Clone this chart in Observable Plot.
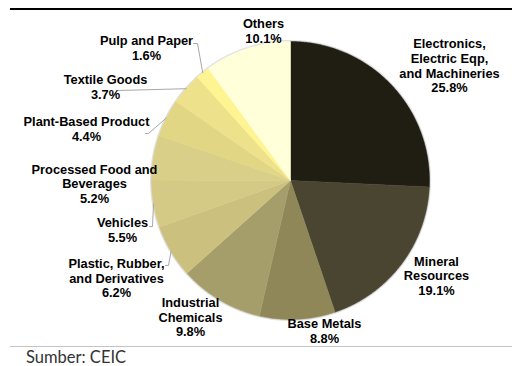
<!DOCTYPE html>
<html><head><meta charset="utf-8">
<script src="https://cdn.jsdelivr.net/npm/d3@7"></script>
<script src="https://cdn.jsdelivr.net/npm/@observablehq/plot@0.6"></script>
<style>
body{margin:0;background:#fff;width:512px;height:366px;overflow:hidden;position:relative}
#chart{position:absolute;left:0;top:0}
#topline{position:absolute;left:10px;top:8px;width:502px;height:2px;background:#000}
#bottomline{position:absolute;left:10px;top:346px;width:502px;height:1px;background:#c4c4c4}
#caption{position:absolute;left:26px;top:349px;font-family:Lato,sans-serif;font-size:16.5px;line-height:16px;color:#333;white-space:nowrap}
</style>
</head><body>
<div id="chart"></div>
<div id="topline"></div>
<div id="bottomline"></div>
<div id="caption">Sumber: CEIC</div>
<script>
// ---- data ----
const categories = [
  "Electronics,\nElectric Eqp,\nand Machineries",
  "Mineral\nResources",
  "Base Metals",
  "Industrial\nChemicals",
  "Plastic, Rubber,\nand Derivatives",
  "Vehicles",
  "Processed Food and\nBeverages",
  "Plant-Based Product",
  "Textile Goods",
  "Pulp and Paper",
  "Others"
];
const shares = [25.8, 19.1, 8.8, 9.8, 6.2, 5.5, 5.2, 4.4, 3.7, 1.6, 10.1];
const colors = ["#201d12", "#4a4530", "#8f8757", "#a69e6a", "#cbc07e", "#d5ca85", "#d9cf89", "#e1d684", "#eee18c", "#fef592", "#ffffda"];

// ---- layout (pixels) ----
const W = 512, H = 346, CX = 290, CY = 180, R = 139;
const labelPos = [
  [449, 65], [436, 275], [324, 330.5], [190, 316.5], [116, 277.5], [122, 229.5],
  [94, 183], [86, 128.5], [105, 86.5], [146, 47], [263, 30]
];
const leaderStarts = [
  {i: 9, pts: [[193, 43], [197, 43]]},
  {i: 8, pts: [[118, 90]]},
  {i: 7, pts: [[145, 133], [148, 133]]},
  {i: 5, pts: [[149, 226], [152, 226]]},
  {i: 4, pts: [[165, 265], [168, 265]]}
];

// ---- geometry from data ----
const arcs = d3.pie().sort(null).value(d => d)(shares);
const slices = arcs.map((a, k) => {
  const pts = [{x: 0, y: 0}];
  const n = Math.max(2, Math.ceil((a.endAngle - a.startAngle) / 0.01));
  for (let j = 0; j <= n; j++) {
    const t = a.startAngle + (a.endAngle - a.startAngle) * j / n;
    pts.push({x: R * Math.sin(t), y: -R * Math.cos(t)});
  }
  pts.push({x: 0, y: 0});
  return pts;
});
// outline ring for soft shadow
const ring = d3.range(0, 361).map(d => ({x: R * Math.sin(d * Math.PI / 180), y: -R * Math.cos(d * Math.PI / 180)}));

const leaderPts = [];
leaderStarts.forEach(({i, pts}) => {
  pts.forEach(([px, py]) => leaderPts.push({x: px - CX, y: py - CY, k: i}));
  const a = arcs[i], m = (a.startAngle + a.endAngle) / 2;
  leaderPts.push({x: R * Math.sin(m), y: -R * Math.cos(m), k: i});
});

const labels = categories.map((c, i) => ({
  x: labelPos[i][0] - CX, y: labelPos[i][1] - CY,
  text: c + "\n" + shares[i].toFixed(1) + "%"
}));

const chart = Plot.plot({
  width: W, height: H,
  margin: 0,
  style: {fontFamily: "'Liberation Sans', Arial, sans-serif", background: "transparent"},
  x: {type: "linear", domain: [-CX, W - CX], range: [0, W], axis: null},
  y: {type: "linear", domain: [-CY, H - CY], range: [0, H], axis: null},
  marks: [
    Plot.line(ring, {x: "x", y: "y", stroke: "#000", strokeOpacity: 0.12, strokeWidth: 3}),
    ...slices.map((pts, k) => Plot.line(pts, {x: "x", y: "y", fill: colors[k], stroke: colors[k], strokeWidth: 0.5, curve: "linear"})),
    Plot.line(leaderPts, {x: "x", y: "y", z: "k", stroke: "#a8a8a8", strokeWidth: 1, curve: "linear"}),
    Plot.text(labels, {x: "x", y: "y", text: "text", fontWeight: "bold", fontSize: 12.8, lineHeight: 1.15, textAnchor: "middle", fill: "#000"})
  ]
});
document.getElementById("chart").appendChild(chart);
</script>
</body></html>
